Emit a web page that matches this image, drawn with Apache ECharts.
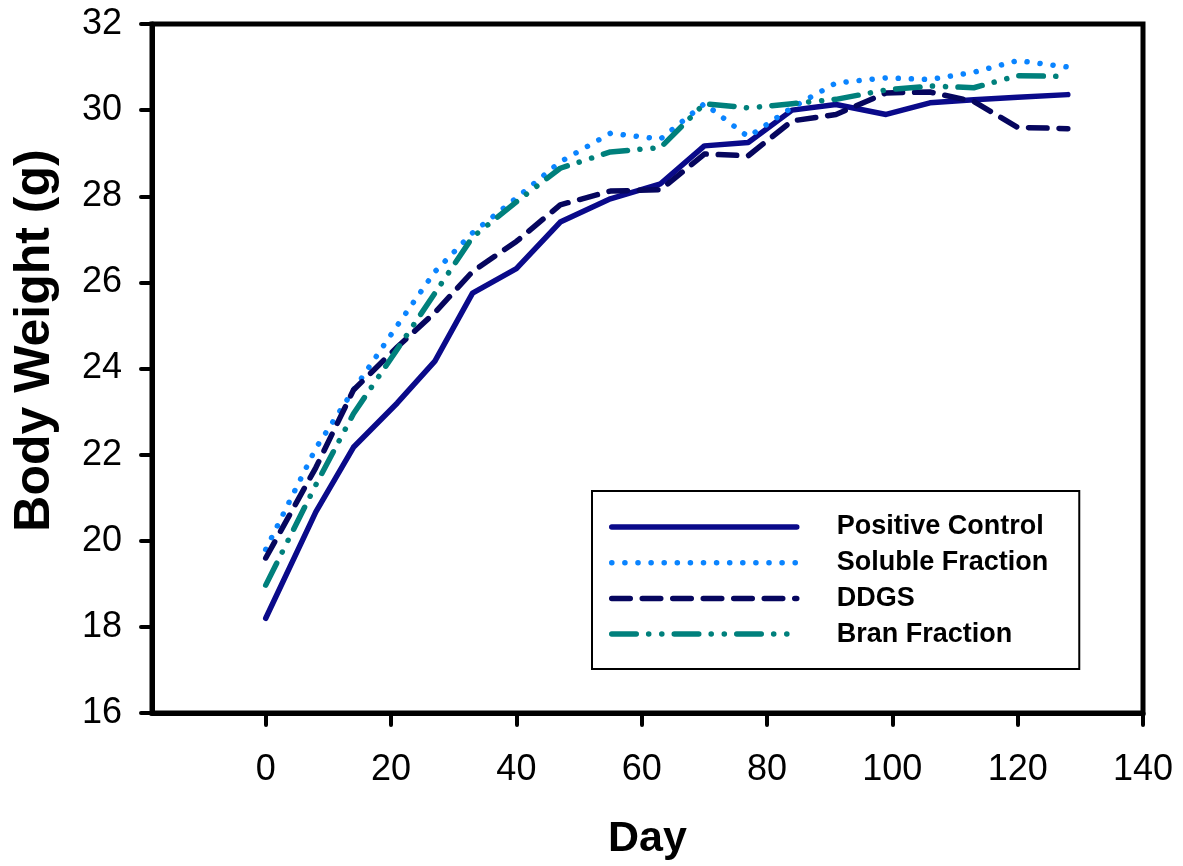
<!DOCTYPE html>
<html>
<head>
<meta charset="utf-8">
<script src="https://cdn.jsdelivr.net/npm/echarts@6/dist/echarts.min.js"></script>
<style>
html,body{margin:0;padding:0;background:#fff;}
#chart{width:1183px;height:866px;}
</style>
</head>
<body>
<div id="chart"></div>
<script>
const days = [0, 8, 14, 21, 27, 33, 40, 47, 55, 63, 70, 77, 84, 91, 99, 106, 113, 120, 128];
const positiveControl = [18.2, 20.67, 22.17, 23.2, 24.17, 25.75, 26.32, 27.4, 27.94, 28.29, 29.17, 29.25, 30.0, 30.13, 29.9, 30.17, 30.24, 30.3, 30.36];
const solubleFraction = [19.8, 22.15, 23.5, 25.0, 26.25, 27.15, 27.96, 28.8, 29.46, 29.33, 30.15, 29.38, 30.06, 30.63, 30.75, 30.71, 30.88, 31.15, 31.0];
const ddgs = [19.6, 21.7, 23.5, 24.5, 25.3, 26.25, 26.95, 27.8, 28.12, 28.15, 28.98, 28.94, 29.75, 29.9, 30.4, 30.42, 30.2, 29.6, 29.57];
const branFraction = [18.97, 21.3, 22.95, 24.45, 25.75, 27.05, 27.87, 28.65, 29.03, 29.13, 30.15, 30.05, 30.15, 30.25, 30.47, 30.56, 30.52, 30.8, 30.78];
const xTicks = [0, 20, 40, 60, 80, 100, 120, 140];
const seriesNames = ['Positive Control', 'Soluble Fraction', 'DDGS', 'Bran Fraction'];

const FONT = "'Liberation Sans', Arial, sans-serif";
const pairs = arr => days.map((d, i) => [d, arr[i]]);

const chart = echarts.init(document.getElementById('chart'), null, {renderer: 'canvas'});
const lw = 5.5;
chart.setOption({
  animation: false,
  backgroundColor: '#fff',
  grid: {left: 152, right: 40, top: 24, bottom: 149, show: true, borderColor: '#000', borderWidth: 5, backgroundColor: 'transparent'},
  xAxis: {
    type: 'value', min: -18.15, max: 140,
    name: 'Day', nameLocation: 'middle', nameGap: 105,
    nameTextStyle: {fontFamily: FONT, fontWeight: 'bold', fontSize: 43, color: '#000'},
    axisLine: {show: true, onZero: false, lineStyle: {color: '#000', width: 5}},
    axisTick: {show: true, customValues: xTicks, length: 12, lineStyle: {color: '#000', width: 4, cap: 'round'}},
    axisLabel: {show: true, customValues: xTicks, margin: 39, fontFamily: FONT, fontSize: 36, color: '#000'},
    splitLine: {show: false}
  },
  yAxis: {
    type: 'value', min: 16, max: 32, interval: 2,
    name: 'Body Weight (g)', nameLocation: 'middle', nameGap: 92, nameRotate: 90,
    nameTextStyle: {fontFamily: FONT, fontWeight: 'bold', fontSize: 50, color: '#000', padding: [0, 0, 0, 56]},
    axisLine: {show: true, onZero: false, lineStyle: {color: '#000', width: 5}},
    axisTick: {show: true, length: 11, lineStyle: {color: '#000', width: 4, cap: 'round'}},
    axisLabel: {margin: 30, fontFamily: FONT, fontSize: 36, color: '#000'},
    splitLine: {show: false}
  },
  legend: {
    orient: 'vertical', left: 592, top: 491,
    data: seriesNames,
    itemWidth: 185, itemHeight: 14, itemGap: 5.7,
    padding: [21, 31, 20, 17],
    borderColor: '#000', borderWidth: 2, backgroundColor: '#fff',
    lineStyle: {width: lw},
    itemStyle: {opacity: 0},
    textStyle: {fontFamily: FONT, fontWeight: 'bold', fontSize: 27, color: '#000', lineHeight: 30, padding: [0, 0, 0, 35]}
  },
  series: [
    {name: seriesNames[0], type: 'line', data: pairs(positiveControl), symbol: 'none',
     lineStyle: {color: '#0a0a8a', width: lw, type: 'solid', cap: 'round', join: 'round'}, itemStyle: {color: '#0a0a8a'}},
    {name: seriesNames[1], type: 'line', data: pairs(solubleFraction), symbol: 'none',
     lineStyle: {color: '#0a84ff', width: lw, type: [0.1, 13], cap: 'round', join: 'round'}, itemStyle: {color: '#0a84ff'}},
    {name: seriesNames[2], type: 'line', data: pairs(ddgs), symbol: 'none',
     lineStyle: {color: '#06065e', width: lw, type: [18.5, 12], cap: 'round', join: 'round'}, itemStyle: {color: '#06065e'}},
    {name: seriesNames[3], type: 'line', data: pairs(branFraction), symbol: 'none',
     lineStyle: {color: '#00807c', width: lw, type: [24.5, 12.4, 0.1, 13, 0.1, 12.4], cap: 'round', join: 'round'}, itemStyle: {color: '#00807c'}}
  ]
});
</script>
</body>
</html>
